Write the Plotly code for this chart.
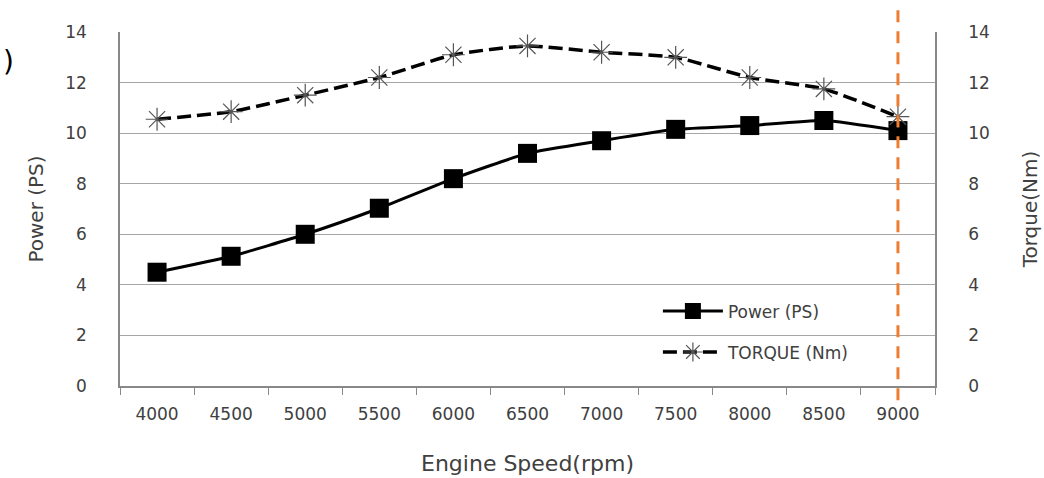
import plotly.graph_objects as go

speeds = ["4000", "4500", "5000", "5500", "6000", "6500", "7000", "7500", "8000", "8500", "9000"]
power_ps = [4.5, 5.13, 6.0, 7.03, 8.2, 9.2, 9.7, 10.15, 10.3, 10.5, 10.1]
torque_nm = [10.55, 10.85, 11.5, 12.2, 13.1, 13.45, 13.2, 13.0, 12.2, 11.75, 10.65]
y_ticks = [0, 2, 4, 6, 8, 10, 12, 14]
marker_speed = "9000"

font_family = "DejaVu Sans"
txt_color = "#404040"

fig = go.Figure()
fig.add_trace(go.Scatter(
    x=speeds, y=power_ps, name="Power (PS)", mode="lines+markers", legendgroup="p",
    line=dict(color="black", width=3, shape="spline", smoothing=0.5),
    marker=dict(symbol="square", size=19, color="black"),
    yaxis="y"))
fig.add_trace(go.Scatter(
    x=speeds, y=torque_nm, name="TORQUE (Nm)", mode="lines+markers", legendgroup="t",
    line=dict(color="black", width=3.5, dash="14px,6px", shape="spline", smoothing=0.5),
    marker=dict(symbol="asterisk-open", size=19, color="#555555", line=dict(width=1.2, color="#555555")),
    yaxis="y2"))

marker_idx = speeds.index(marker_speed)
fig.add_shape(type="line", xref="x", yref="paper", x0=marker_idx, x1=marker_idx,
              y0=-0.04, y1=1.08, line=dict(color="#ED7D31", width=3, dash="12px,9px"))

fig.add_annotation(text=")", xref="paper", yref="paper", x=-0.146, y=0.97,
                   xanchor="left", showarrow=False, font=dict(size=28, color="black", family=font_family))

fig.update_layout(
    width=1044, height=478,
    margin=dict(l=120, r=109, t=32, b=92, autoexpand=False),
    paper_bgcolor="white", plot_bgcolor="white",
    font=dict(family=font_family, color=txt_color, size=16),
    showlegend=True,
    legend=dict(x=0.66, y=0.153, xanchor="left", yanchor="middle", bgcolor="rgba(0,0,0,0)",
                font=dict(size=17, color=txt_color), itemwidth=60, tracegroupgap=16,
                traceorder="grouped"),
    xaxis=dict(type="category", range=[-0.5, len(speeds) - 0.5], tickson="boundaries", ticks="outside", ticklen=7,
               tickcolor="#888888", showline=True, linecolor="#888888", linewidth=1.5, automargin=False,
               showgrid=False, tickfont=dict(size=17, color=txt_color), tickangle=0,
               ticklabelstandoff=12,
               title=dict(text="Engine Speed(rpm)", font=dict(size=22, color=txt_color), standoff=32),
               mirror=False),
    yaxis=dict(range=[0, 14], tickvals=y_ticks, showgrid=True, gridcolor="#A6A6A6", gridwidth=1.2,
               showline=True, linecolor="#888888", linewidth=1.5, ticks="", zeroline=False, automargin=False,
               tickfont=dict(size=17, color=txt_color), ticklabelstandoff=28,
               title=dict(text="Power (PS)", font=dict(size=20, color=txt_color), standoff=16)),
    yaxis2=dict(range=[0, 14], tickvals=y_ticks, overlaying="y", side="right", showgrid=False,
                showline=True, linecolor="#888888", linewidth=1.5, ticks="", zeroline=False, automargin=False,
                tickfont=dict(size=17, color=txt_color), ticklabelstandoff=28,
                title=dict(text="Torque(Nm)", font=dict(size=20, color=txt_color), standoff=34)),
)

fig.write_html("out.html")
